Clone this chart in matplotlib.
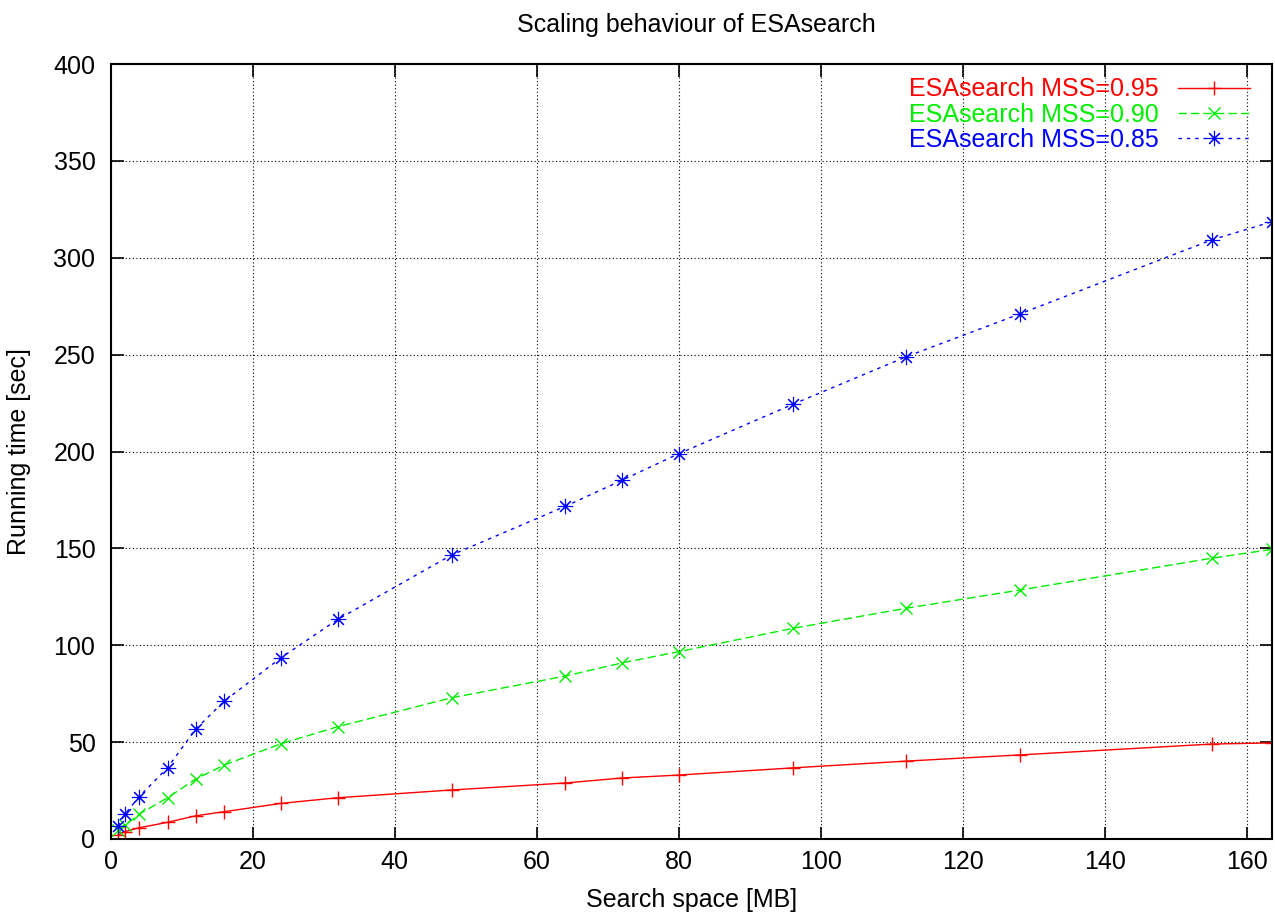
import matplotlib
matplotlib.use("Agg")
import matplotlib.pyplot as plt

# Data
x_mb = [1, 2, 4, 8, 12, 16, 24, 32, 48, 64, 72, 80, 96, 112, 128, 155, 163.5]
t_095 = [2.0, 3.8, 5.8, 8.6, 12.0, 14.1, 18.4, 21.3, 25.3, 28.9, 31.5, 33.0, 36.7, 40.2, 43.4, 49.0, 49.6]
t_090 = [4.5, 7.0, 12.8, 21.3, 31.0, 38.2, 49.2, 58.0, 72.9, 84.1, 90.9, 96.7, 108.7, 119.1, 128.5, 144.9, 149.5]
t_085 = [6.7, 12.8, 21.8, 36.8, 56.8, 71.2, 93.6, 113.4, 146.6, 171.7, 185.2, 198.9, 224.3, 248.9, 271.0, 309.2, 318.6]
labels = ["ESAsearch MSS=0.95", "ESAsearch MSS=0.90", "ESAsearch MSS=0.85"]
title = "Scaling behaviour of ESAsearch"
xlabel = "Search space [MB]"
ylabel = "Running time [sec]"
xticks = [0, 20, 40, 60, 80, 100, 120, 140, 160]
yticks = [0, 50, 100, 150, 200, 250, 300, 350, 400]

plt.rcParams['font.family'] = ['Liberation Sans', 'DejaVu Sans']

W, H = 1275, 918
fig = plt.figure(figsize=(W / 100, H / 100), dpi=100)
ax = fig.add_axes([110.7 / W, 1 - 839 / H, (1272 - 110.7) / W, (839 - 64) / H])

ax.plot(x_mb, t_095, color='#ff0000', lw=1.0, ls='-', marker='+', ms=9.5, mew=1.0, label=labels[0])
ax.plot(x_mb, t_090, color='#00ee00', lw=1.0, ls=(0, (6, 3)), marker='x', ms=8, mew=1.0, label=labels[1])
ax.plot(x_mb, t_085, color='#0000ff', lw=1.0, ls=(0, (2.5, 3.5)), marker=(8, 2, 0), ms=11, mew=0.8, label=labels[2])

ax.set_xlim(0, max(x_mb))
ax.set_ylim(0, 400)
ax.set_xticks(xticks)
ax.set_yticks(yticks)
ax.tick_params(direction='in', length=9, width=1.2, top=True, right=True, labelsize=18, colors='black')
ax.tick_params(axis='y', pad=11)
ax.tick_params(axis='x', pad=8)
for s in ax.spines.values():
    s.set_linewidth(1.5)
ax.grid(True, color='black', ls=(0, (1, 2.2)), lw=0.8)

ax.set_xlabel(xlabel, fontsize=18, labelpad=10)
ax.set_ylabel(ylabel, fontsize=18, labelpad=16)
fig.text(696 / W, 1 - 25 / H, title, ha='center', va='center', fontsize=18)

leg = ax.legend(loc='upper right', bbox_to_anchor=(0.990, 0.9955), frameon=False,
                markerfirst=False, labelcolor='linecolor',
                fontsize=18, handlelength=2.9, numpoints=1, labelspacing=0.05,
                borderaxespad=0.0, handletextpad=0.76)

fig.savefig('out.png', dpi=100)
